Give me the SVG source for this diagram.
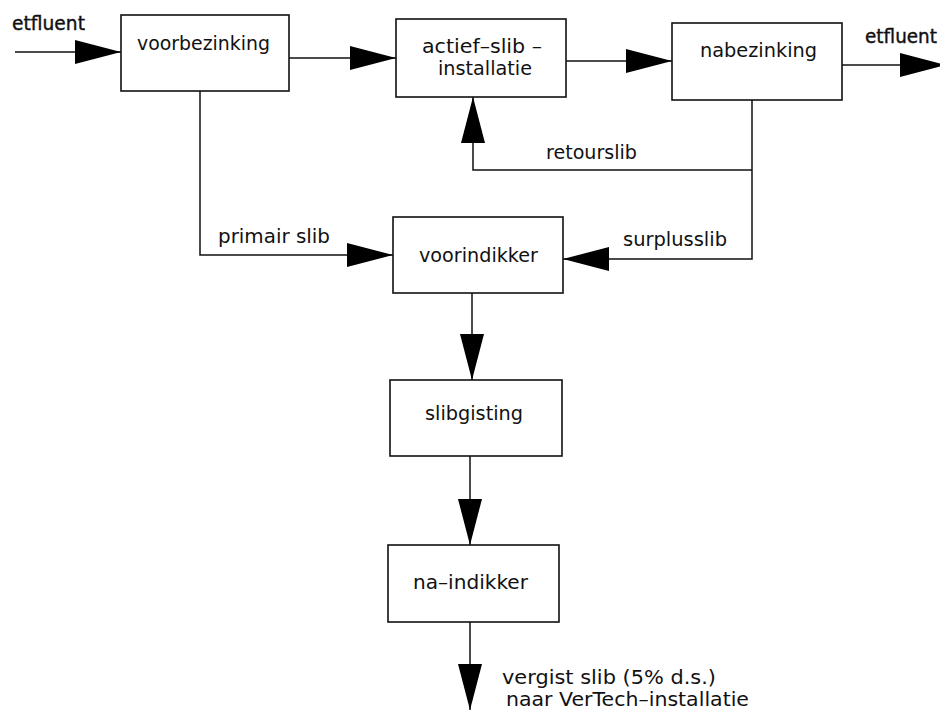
<svg xmlns="http://www.w3.org/2000/svg" width="940" height="710" viewBox="0 0 940 710">
<style>
.box{fill:#fff;stroke:#111;stroke-width:1.6}
.ln{fill:none;stroke:#111;stroke-width:1.5;marker-end:url(#ah)}
text{font-family:"DejaVu Sans","Liberation Sans",sans-serif;font-size:19px;fill:#111}
.b{stroke:#111;stroke-width:0.4}
</style>
<defs>
<marker id="ah" markerUnits="userSpaceOnUse" markerWidth="48" markerHeight="26" refX="46" refY="12" orient="auto">
<path d="M0,0 L46,12 L0,24 Z" fill="#000"/>
</marker>
</defs>
<rect width="940" height="710" fill="#fff"/>
<g id="connectors">
<path class="ln" d="M15,52 H121"/>
<path class="ln" d="M289,58 H396"/>
<path class="ln" d="M566,61 H672"/>
<path class="ln" d="M842,65 H946"/>
<path class="ln" d="M200,91 V255 H393"/>
<path class="ln" d="M752,100 V259 H563"/>
<path class="ln" d="M752,170 H473 V97"/>
<path class="ln" d="M472,293 V380"/>
<path class="ln" d="M470,456 V545"/>
<path class="ln" d="M470,622 V710"/>
</g>
<g id="labels">
<text class="b" x="12" y="30" textLength="73" lengthAdjust="spacingAndGlyphs">etfluent</text>
<text class="b" x="865" y="43" textLength="72" lengthAdjust="spacingAndGlyphs">etfluent</text>
<text x="218" y="243" textLength="112" lengthAdjust="spacingAndGlyphs">primair slib</text>
<text x="546" y="159" textLength="91" lengthAdjust="spacingAndGlyphs">retourslib</text>
<text x="623" y="246" textLength="104" lengthAdjust="spacingAndGlyphs">surplusslib</text>
<text x="502" y="684" textLength="214" lengthAdjust="spacingAndGlyphs">vergist slib (5% d.s.)</text>
<text x="506" y="706" textLength="243" lengthAdjust="spacingAndGlyphs">naar VerTech–installatie</text>
</g>
<g id="voorbezinking">
<rect class="box" x="121" y="15" width="168" height="76"/>
<text x="137" y="50" textLength="133" lengthAdjust="spacingAndGlyphs">voorbezinking</text>
</g>
<g id="actief-slib-installatie">
<rect class="box" x="396" y="19" width="170" height="78"/>
<text x="422" y="53" textLength="120" lengthAdjust="spacingAndGlyphs">actief–slib –</text>
<text x="438" y="75" textLength="94" lengthAdjust="spacingAndGlyphs">installatie</text>
</g>
<g id="nabezinking">
<rect class="box" x="672" y="23" width="170" height="77"/>
<text x="700" y="57" textLength="117" lengthAdjust="spacingAndGlyphs">nabezinking</text>
</g>
<g id="voorindikker">
<rect class="box" x="393" y="217" width="170" height="76"/>
<text x="419" y="262" textLength="119" lengthAdjust="spacingAndGlyphs">voorindikker</text>
</g>
<g id="slibgisting">
<rect class="box" x="390" y="380" width="172" height="76"/>
<text x="425" y="420" textLength="98" lengthAdjust="spacingAndGlyphs">slibgisting</text>
</g>
<g id="na-indikker">
<rect class="box" x="388" y="545" width="171" height="77"/>
<text x="413" y="589" textLength="115" lengthAdjust="spacingAndGlyphs">na–indikker</text>
</g>
</svg>
